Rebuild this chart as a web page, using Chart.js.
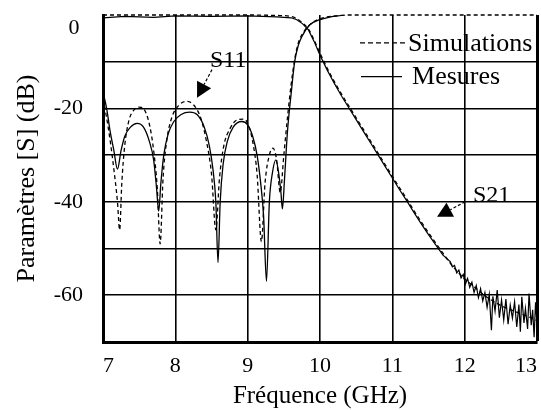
<!DOCTYPE html>
<html>
<head>
<meta charset="utf-8">
<script src="https://cdn.jsdelivr.net/npm/chart.js@4.4.1/dist/chart.umd.min.js"></script>
<style>
  body { margin: 0; background: #fff; }
  #chartBox { width: 541px; height: 410px; }
</style>
</head>
<body>
<div id="chartBox"><canvas id="myChart" width="541" height="410"></canvas></div>
<script>
// S11 measured (solid)
const s11MeasFreq = [7.00, 7.05, 7.10, 7.15, 7.20, 7.25, 7.30, 7.38, 7.47, 7.56, 7.64, 7.70, 7.74, 7.77, 7.80, 7.84, 7.90, 7.98, 8.08, 8.20, 8.30, 8.40, 8.47, 8.52, 8.56, 8.59, 8.62, 8.66, 8.72, 8.80, 8.92, 9.00, 9.07, 9.13, 9.18, 9.22, 9.26, 9.30, 9.34, 9.39, 9.43, 9.46, 9.48, 9.51, 9.55, 9.60, 9.65, 9.70, 9.75, 9.86, 10.00, 10.15, 10.30, 10.45, 11.00, 12.00, 13.00];
const s11Meas = [-16.5, -20, -25, -29, -33, -29, -26, -24, -23.2, -24, -27, -31, -37, -42, -36, -30, -25.5, -22.8, -21.3, -20.8, -21.3, -24, -28, -33, -40, -53, -40, -32, -27, -24, -22.8, -23.5, -26, -30, -36, -43, -57, -40, -34, -31, -34, -38, -41.5, -35, -25, -17, -10, -6.5, -4.6, -2.1, -1.0, -0.4, -0.1, 0.5, 0.6, 0.6, 0.6];

// S11 simulated (dashed)
const s11SimFreq = [7.00, 7.05, 7.10, 7.15, 7.20, 7.23, 7.26, 7.30, 7.36, 7.43, 7.50, 7.58, 7.65, 7.70, 7.75, 7.79, 7.83, 7.88, 7.95, 8.05, 8.15, 8.25, 8.35, 8.43, 8.50, 8.56, 8.61, 8.67, 8.75, 8.85, 8.95, 9.02, 9.08, 9.13, 9.19, 9.24, 9.30, 9.35, 9.40, 9.45, 9.50, 9.55, 9.60, 9.65, 9.70, 9.78, 9.88, 10.00, 10.20, 10.40, 11.00, 12.00, 13.00];
const s11Sim = [-18, -22, -27, -33, -40, -46, -36, -28, -22.5, -20.3, -19.7, -20.5, -24, -29, -37, -49, -35, -27, -22, -19.3, -18.5, -19.2, -22, -27, -34, -46, -35, -28, -24.5, -22.5, -22.3, -24, -28, -34, -48.5, -36, -30, -28.5, -31, -38, -30, -22, -15, -9.5, -6, -3.5, -1.8, -0.8, -0.2, 0, 0, 0, 0];

// S21 simulated (dashed)
const s21SimFreq = [7.0, 7.5, 8.0, 8.5, 9.0, 9.4, 9.6, 9.68, 9.76, 9.84, 9.92, 10.0, 10.1, 10.2, 10.3, 10.4, 10.5, 10.6, 10.7, 10.8, 10.9, 11.0, 11.1, 11.2, 11.3, 11.4, 11.5, 11.6, 11.7, 11.8, 11.9, 12.0, 12.1, 12.2, 12.3, 12.4, 12.5, 12.6, 12.7, 12.8, 12.9, 13.0];
const s21Sim = [0, 0, 0, 0, 0, -0.1, -0.3, -0.8, -1.7, -3, -5.4, -8.2, -11.4, -14.3, -17, -19.5, -22, -24.5, -27, -29.5, -32, -34.5, -37, -39.4, -41.9, -44.3, -46.6, -48.8, -51, -53.1, -54.9, -56.5, -57.8, -59.1, -60.3, -61.3, -62.2, -62.9, -63.5, -64.1, -64.7, -65.4];

// S21 measured (solid, noisy at the end)
const s21MeasFreq = [7.0, 7.3, 7.7, 8.0, 8.5, 9.0, 9.4, 9.6, 9.68, 9.76, 9.84, 9.92, 10.0, 10.1, 10.2, 10.3, 10.4, 10.5, 10.6, 10.7, 10.8, 10.9, 11.0, 11.1, 11.2, 11.3, 11.4, 11.5, 11.6, 11.7,
  11.80, 11.83, 11.86, 11.89, 11.92, 11.95, 11.98, 12.01, 12.04, 12.07, 12.10, 12.13, 12.16, 12.19, 12.22, 12.25, 12.28, 12.31, 12.34, 12.37, 12.39, 12.42, 12.45, 12.48, 12.51, 12.54, 12.57, 12.60, 12.63, 12.66, 12.69, 12.72, 12.75, 12.77, 12.79, 12.82, 12.84, 12.87, 12.89, 12.92, 12.94, 12.96, 12.98, 13.00];
const s21Meas = [-0.6, -0.3, -0.5, -0.2, -0.3, -0.2, -0.4, -0.6, -1.0, -1.9, -3.2, -5.7, -8.6, -11.8, -14.7, -17.4, -19.9, -22.4, -24.9, -27.4, -29.9, -32.4, -34.9, -37.4, -39.8, -42.3, -44.7, -47.0, -49.2, -51.4,
  -52.8, -53.9, -53.6, -55.2, -54.6, -56.3, -55.5, -57.6, -56.4, -58.3, -57.2, -59.4, -57.9, -60.5, -58.6, -61.2, -59.4, -62.6, -59.8, -67.5, -60.2, -63.4, -58.9, -64.8, -61.0, -65.3, -60.8, -66.2, -62.1, -64.9, -61.4, -66.8, -62.0, -67.8, -60.3, -65.9, -62.8, -67.2, -59.6, -66.4, -63.1, -69.0, -61.5, -66.0];

const xTicks = [7, 8, 9, 10, 11, 12, 13];
const yLabels = [-20, -40, -60];

// annotation anchors, in data units (GHz, dB)
const zeroLabel = { text: "0", y: -2.8 };
const legendItems = [
  { text: "Simulations", dash: [5, 3], from: 10.553, to: 11.175, textX: 11.217, y: -5.95 },
  { text: "Mesures", dash: [], from: 10.567, to: 11.134, textX: 11.272, y: -13.2 },
];
const arrows = [
  { text: "S11", textX: 8.479, textY: -9.8, tail: [8.507, -11.7], tip: [8.300, -17.7] },
  { text: "S21", textX: 12.115, textY: -38.7, tail: [12.005, -40.0], tip: [11.618, -43.2] },
];

function toPoints(xs, ys) {
  return xs.map((x, i) => ({ x: x, y: ys[i] }));
}

const serif = "'Liberation Serif', 'Times New Roman', serif";

const annotations = {
  id: "annotations",
  afterDatasetsDraw(chart) {
    const ctx = chart.ctx;
    const xs = chart.scales.x;
    const ys = chart.scales.y;
    ctx.save();
    ctx.fillStyle = "#000";
    ctx.strokeStyle = "#000";
    ctx.textBaseline = "middle";

    // the "0" tick label sits a little under the top edge in the original
    ctx.textAlign = "center";
    ctx.font = "22px " + serif;
    ctx.fillText(zeroLabel.text, chart.chartArea.left - 29, ys.getPixelForValue(zeroLabel.y));

    ctx.textAlign = "left";
    // legend
    legendItems.forEach((item) => {
      const y = ys.getPixelForValue(item.y);
      ctx.lineWidth = 1.3;
      ctx.setLineDash(item.dash);
      ctx.beginPath();
      ctx.moveTo(xs.getPixelForValue(item.from), y);
      ctx.lineTo(xs.getPixelForValue(item.to), y);
      ctx.stroke();
      ctx.setLineDash([]);
      ctx.font = "26px " + serif;
      ctx.fillText(item.text, xs.getPixelForValue(item.textX), y + 1);
    });

    // S11 / S21 labels with arrows
    arrows.forEach((a) => {
      ctx.font = "24px " + serif;
      ctx.fillText(a.text, xs.getPixelForValue(a.textX), ys.getPixelForValue(a.textY));
      const tx = xs.getPixelForValue(a.tail[0]);
      const ty = ys.getPixelForValue(a.tail[1]);
      const px = xs.getPixelForValue(a.tip[0]);
      const py = ys.getPixelForValue(a.tip[1]);
      const len = Math.hypot(px - tx, py - ty);
      const ux = (px - tx) / len;
      const uy = (py - ty) / len;
      const head = 15;
      const half = 8;
      const bx = px - ux * head;
      const by = py - uy * head;
      ctx.lineWidth = 1.2;
      ctx.setLineDash([3, 2]);
      ctx.beginPath();
      ctx.moveTo(tx, ty);
      ctx.lineTo(bx, by);
      ctx.stroke();
      ctx.setLineDash([]);
      ctx.beginPath();
      ctx.moveTo(px, py);
      ctx.lineTo(bx - uy * half, by + ux * half);
      ctx.lineTo(bx + uy * half, by - ux * half);
      ctx.closePath();
      ctx.fill();
    });
    ctx.restore();
  },
};

const data = {
  datasets: [
    {
      label: "S11 simulation",
      data: toPoints(s11SimFreq, s11Sim),
      borderColor: "#000",
      borderWidth: 1.3,
      borderDash: [4, 3],
      cubicInterpolationMode: "monotone",
      clip: 3,
    },
    {
      label: "S11 mesure",
      data: toPoints(s11MeasFreq, s11Meas),
      borderColor: "#000",
      borderWidth: 1.3,
      cubicInterpolationMode: "monotone",
    },
    {
      label: "S21 simulation",
      data: toPoints(s21SimFreq, s21Sim),
      borderColor: "#000",
      borderWidth: 1.3,
      borderDash: [4, 3],
      cubicInterpolationMode: "monotone",
      clip: 3,
    },
    {
      label: "S21 mesure",
      data: toPoints(s21MeasFreq, s21Meas),
      borderColor: "#000",
      borderWidth: 1.2,
      tension: 0,
      clip: 3,
    },
  ],
};

const config = {
  type: "line",
  data,
  options: {
    responsive: false,
    animation: false,
    devicePixelRatio: 1,
    elements: { point: { radius: 0 } },
    layout: { padding: { top: 15, right: 4, left: 0, bottom: 0 } },
    plugins: {
      legend: { display: false },
      tooltip: { enabled: false },
    },
    scales: {
      x: {
        type: "linear",
        min: 7,
        max: 13,
        afterFit(scale) {
          scale.height = 68;
          scale.paddingLeft = 0;
          scale.paddingRight = 0;
        },
        afterBuildTicks(scale) {
          scale.ticks = xTicks.map((v) => ({ value: v }));
        },
        border: { display: true, width: 3, color: "#000" },
        grid: {
          color: "#000",
          lineWidth: (c) => (c.tick && c.tick.value === 13 ? 3 : 1.6),
          drawTicks: false,
        },
        ticks: {
          align: "inner",
          padding: 11,
          color: "#000",
          font: { family: serif, size: 22 },
        },
        title: {
          display: true,
          text: "Fréquence (GHz)",
          color: "#000",
          font: { family: serif, size: 25, lineHeight: 1 },
          padding: { top: 0, bottom: 1 },
        },
      },
      y: {
        min: -70,
        max: 0,
        afterFit(scale) {
          scale.width = 103;
          scale.paddingTop = 0;
          scale.paddingBottom = 0;
        },
        border: { display: true, width: 3, color: "#000" },
        grid: {
          color: (c) => (c.tick && c.tick.value === 0 ? "rgba(0,0,0,0)" : "#000"),
          lineWidth: 1.6,
          drawTicks: false,
        },
        ticks: {
          stepSize: 10,
          padding: 20,
          color: "#000",
          font: { family: serif, size: 22 },
          callback: (v) => (yLabels.includes(v) ? String(v) : ""),
        },
        title: {
          display: true,
          text: "Paramètres [S] (dB)",
          color: "#000",
          font: { family: serif, size: 26, lineHeight: 1 },
          padding: { top: 14, bottom: 0 },
        },
      },
    },
  },
  plugins: [annotations],
};

const myChart = new Chart(document.getElementById("myChart"), config);
</script>
</body>
</html>
